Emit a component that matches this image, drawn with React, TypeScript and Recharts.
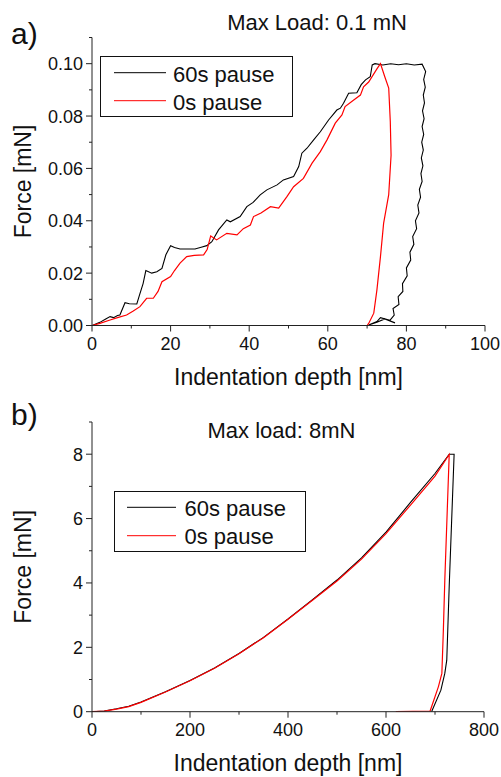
import React from "react";
import { Label, Line, LineChart, XAxis, YAxis } from "recharts";

const FONT = "'Liberation Sans', Arial, Helvetica, sans-serif";
const AXIS = "#222";

// a) Max load 0.1 mN  — pares [profundidad nm, fuerza mN]
const A_60S: [number, number][] = [
  [0, 0], [2, 0.0012], [3.5, 0.0025], [4.6, 0.0034], [5.5, 0.003], [6.5, 0.0038],
  [7.1, 0.004], [8.4, 0.0087], [9.5, 0.0083], [11.4, 0.0082], [12.1, 0.0117],
  [13.0, 0.016], [13.7, 0.021], [15.2, 0.02], [16.5, 0.0205], [17.8, 0.0218],
  [18.8, 0.027], [20.0, 0.0305], [21.0, 0.0298], [22.4, 0.0292], [26.2, 0.0292],
  [28.0, 0.03], [29.2, 0.0305], [30.5, 0.032], [32.2, 0.0365], [34.3, 0.0403],
  [35.2, 0.0396], [37.7, 0.0416], [39.4, 0.0454], [41.0, 0.047], [42.8, 0.0499],
  [44.5, 0.0518], [47.1, 0.0537], [48.7, 0.0556], [51.3, 0.0569], [52.6, 0.0607],
  [53.4, 0.0658], [54.7, 0.0677], [56.4, 0.0709], [58.1, 0.074], [60.2, 0.0785],
  [62.3, 0.0823], [63.2, 0.083], [64.0, 0.0849], [65.3, 0.0887], [67.4, 0.0889],
  [68.5, 0.092], [69.6, 0.0938], [70.8, 0.095], [71.3, 0.0995],
  // hold
  [72, 0.1], [74, 0.0995], [76, 0.1], [78, 0.0996], [80, 0.1], [82, 0.0995], [84.0, 0.0998],
  // unload
  [84.9, 0.097], [84.4, 0.094], [84.8, 0.091], [84.3, 0.088], [84.6, 0.085],
  [84.1, 0.082], [84.5, 0.079], [84.0, 0.076], [84.4, 0.073], [83.9, 0.07],
  [84.3, 0.067], [83.8, 0.064], [84.2, 0.061], [83.7, 0.058], [84.0, 0.055],
  [83.3, 0.052], [83.6, 0.049], [82.9, 0.046], [83.2, 0.043], [82.3, 0.04],
  [82.6, 0.037], [81.6, 0.034], [81.9, 0.031], [80.9, 0.028], [81.1, 0.025],
  [80.0, 0.022], [80.2, 0.019], [79.0, 0.016], [79.1, 0.013], [77.9, 0.011],
  [78.1, 0.008], [76.6, 0.0065], [76.9, 0.004], [75.8, 0.002], [73.4, 0.003],
  [72.5, 0.0015], [70.4, 0.0002], [72.5, 0.0012], [74.5, 0.0025], [77.1, 0.001],
];

const A_0S: [number, number][] = [
  [0, 0], [2, 0.0008], [4.6, 0.0021], [6.5, 0.003], [8.8, 0.004], [10.5, 0.0055],
  [12.2, 0.0072], [13.9, 0.0104], [15.6, 0.0104], [16.8, 0.013], [17.8, 0.0167],
  [20, 0.0187], [21, 0.021], [22.4, 0.0238], [24.1, 0.0263], [26, 0.0268],
  [28.4, 0.027], [29.3, 0.029], [30.2, 0.0342], [31.7, 0.0327], [34.3, 0.0352],
  [36.9, 0.0346], [38.5, 0.037], [40.3, 0.0384], [41.1, 0.0416], [43, 0.043],
  [45.4, 0.0454], [47.5, 0.0448], [49.6, 0.0492], [51.3, 0.053], [53.8, 0.0562],
  [56.0, 0.062], [58.1, 0.0664], [59.8, 0.0709], [61.9, 0.0773], [63.6, 0.0804],
  [64.4, 0.0836], [66.6, 0.0861], [68.3, 0.088], [69.1, 0.0912], [70.4, 0.093],
  [72.5, 0.098], [73.4, 0.1],
  // unload
  [74.5, 0.095], [75.5, 0.0907], [75.9, 0.078], [76.1, 0.065], [75.5, 0.05],
  [74.2, 0.039], [73.4, 0.0263], [72.5, 0.0136], [71.7, 0.0047], [70.4, 0.0008],
  [70, 0], [60, 0], [25, 0],
];

// b) Max load 8 mN
const B_60S: [number, number][] = [
  [0, 0], [25, 0.02], [50, 0.09], [75, 0.17], [100, 0.3], [150, 0.62], [200, 0.97],
  [250, 1.36], [300, 1.81], [350, 2.31], [400, 2.88], [450, 3.48], [500, 4.09],
  [550, 4.78], [600, 5.58], [650, 6.5], [700, 7.4], [729, 8.0], [739, 8.0],
  [729, 3.9], [724, 1.6], [720, 1.19], [712, 0.67], [693, 0],
];

const B_0S: [number, number][] = [
  [0, 0], [25, 0.02], [50, 0.08], [75, 0.16], [100, 0.29], [150, 0.61], [200, 0.96],
  [250, 1.35], [300, 1.8], [350, 2.3], [400, 2.87], [450, 3.46], [500, 4.06],
  [550, 4.74], [600, 5.53], [650, 6.42], [700, 7.32], [729, 7.99],
  [720, 4.08], [717, 2.5], [714, 1.19], [707, 0.78], [690, 0.02], [620, 0],
];

const A_X_TICKS = [0, 10, 20, 30, 40, 50, 60, 70, 80, 90, 100];
const A_Y_TICKS = [0, 0.01, 0.02, 0.03, 0.04, 0.05, 0.06, 0.07, 0.08, 0.09, 0.1, 0.11];
const B_X_TICKS = [0, 100, 200, 300, 400, 500, 600, 700, 800];
const B_Y_TICKS = [0, 1, 2, 3, 4, 5, 6, 7, 8, 9];

const toRows = (pts: [number, number][]) => pts.map(([x, y]) => ({ x, y }));

function XTick(props: any) {
  const { x, y, payload, index } = props;
  const major = index % 2 === 0;
  return (
    <g>
      <line x1={x} y1={y} x2={x} y2={y + (major ? 6 : 3)} stroke={AXIS} />
      {major && (
        <text x={x} y={y + 24.5} textAnchor="middle" fontSize={18} fontFamily={FONT} fill="#111">
          {payload.value}
        </text>
      )}
    </g>
  );
}

const makeYTick = (fmt: (v: number) => string) =>
  function YTick(props: any) {
    const { x, y, payload, index } = props;
    const major = index % 2 === 0;
    return (
      <g>
        <line x1={x} y1={y} x2={x - (major ? 6 : 3)} y2={y} stroke={AXIS} />
        {major && (
          <text x={x - 9} y={y + 6.5} textAnchor="end" fontSize={18} fontFamily={FONT} fill="#111">
            {fmt(payload.value)}
          </text>
        )}
      </g>
    );
  };

const YTickA = makeYTick((v) => v.toFixed(2));
const YTickB = makeYTick((v) => String(v));

function Panel({
  top, height, plotTop, plotBottom, plotRight, xMax, yMax, xTicks, yTicks, YTick, black, red,
}: {
  top: number; height: number; plotTop: number; plotBottom: number; plotRight: number;
  xMax: number; yMax: number; xTicks: number[]; yTicks: number[]; YTick: any;
  black: [number, number][]; red: [number, number][];
}) {
  const xAxisH = height - plotBottom;
  return (
    <div style={{ position: "absolute", left: 0, top }}>
      <LineChart width={501} height={height} margin={{ top: plotTop, right: 501 - plotRight, left: 0, bottom: 0 }}>
        <XAxis
          type="number" dataKey="x" domain={[0, xMax]} allowDataOverflow ticks={xTicks} interval={0}
          height={xAxisH} tickSize={0} tickMargin={0} tickLine={false} tick={<XTick />}
          axisLine={{ stroke: AXIS }}
        >
          <Label value="Indentation depth [nm]" position="insideBottom" offset={xAxisH - 59}
            fontSize={23} fontFamily={FONT} fill="#111" />
        </XAxis>
        <YAxis
          type="number" dataKey="y" domain={[0, yMax]} allowDataOverflow ticks={yTicks} interval={0}
          width={92} tickSize={0} tickMargin={0} tickLine={false} tick={<YTick />}
          axisLine={{ stroke: AXIS }}
        >
          <Label value="Force [mN]" angle={-90} position="insideLeft" offset={23}
            fontSize={23} fontFamily={FONT} fill="#111" style={{ textAnchor: "middle" }} />
        </YAxis>
        <Line data={toRows(black)} dataKey="y" type="linear" stroke="#000" strokeWidth={1.1}
          dot={false} isAnimationActive={false} />
        <Line data={toRows(red)} dataKey="y" type="linear" stroke="#ff0000" strokeWidth={1.2}
          dot={false} isAnimationActive={false} />
      </LineChart>
    </div>
  );
}

function LegendBox({ x, y, w, h, lineX1, lineX2, textX, rows }: {
  x: number; y: number; w: number; h: number; lineX1: number; lineX2: number; textX: number;
  rows: { label: string; color: string; ly: number; ty: number }[];
}) {
  return (
    <g>
      <rect x={x} y={y} width={w} height={h} fill="#fff" stroke="#111" strokeWidth={1} />
      {rows.map((r) => (
        <g key={r.label}>
          <line x1={lineX1} x2={lineX2} y1={r.ly} y2={r.ly} stroke={r.color} strokeWidth={1} />
          <text x={textX} y={r.ty} fontSize={22} fontFamily={FONT} fill="#111">{r.label}</text>
        </g>
      ))}
    </g>
  );
}

export default function App() {
  return (
    <div style={{ position: "absolute", left: 0, top: 0, width: 501, height: 777, background: "#fff" }}>
      <Panel top={0} height={400} plotTop={37.5} plotBottom={325.5} plotRight={485}
        xMax={100} yMax={0.11} xTicks={A_X_TICKS} yTicks={A_Y_TICKS} YTick={YTickA}
        black={A_60S} red={A_0S} />
      <Panel top={390} height={387} plotTop={32} plotBottom={321.7} plotRight={484}
        xMax={800} yMax={9} xTicks={B_X_TICKS} yTicks={B_Y_TICKS} YTick={YTickB}
        black={B_60S} red={B_0S} />
      <svg width={501} height={777} style={{ position: "absolute", left: 0, top: 0, pointerEvents: "none" }}>
        <text x={11} y={43.5} fontSize={30} fontFamily={FONT} fill="#111">a)</text>
        <text x={317} y={29.5} textAnchor="middle" fontSize={22} fontFamily={FONT} fill="#111">Max Load: 0.1 mN</text>
        <LegendBox x={100.5} y={56.5} w={192} h={60} lineX1={114} lineX2={166} textX={173}
          rows={[
            { label: "60s pause", color: "#000", ly: 72.7, ty: 81.5 },
            { label: "0s pause", color: "#ff0000", ly: 100.7, ty: 109.5 },
          ]} />
        <text x={11} y={425} fontSize={30} fontFamily={FONT} fill="#111">b)</text>
        <text x={281.5} y={437.5} textAnchor="middle" fontSize={22} fontFamily={FONT} fill="#111">Max load: 8mN</text>
        <LegendBox x={114.5} y={491.5} w={191} h={60} lineX1={127} lineX2={176} textX={184.5}
          rows={[
            { label: "60s pause", color: "#000", ly: 507.3, ty: 515.7 },
            { label: "0s pause", color: "#ff0000", ly: 535.7, ty: 544 },
          ]} />
      </svg>
    </div>
  );
}
